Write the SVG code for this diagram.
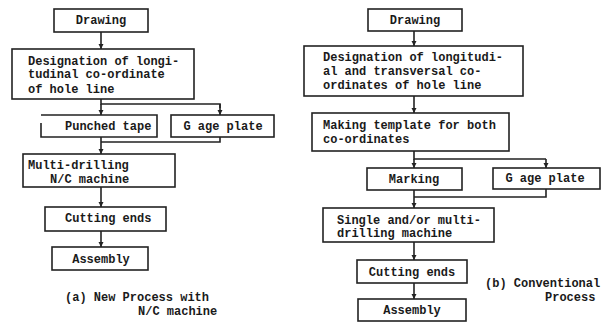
<svg xmlns="http://www.w3.org/2000/svg" width="608" height="322" viewBox="0 0 608 322">
<defs>
<marker id="ah" viewBox="0 0 10 10" refX="10" refY="5" markerWidth="5" markerHeight="7" orient="auto" markerUnits="userSpaceOnUse">
<path d="M0,0 L10,5 L0,10 z" fill="#222"/>
</marker>
</defs>
<style>
rect,.bx{fill:#fff;stroke:#222;stroke-width:1.6}
text{font-family:"Liberation Mono","DejaVu Sans Mono",monospace;font-size:12px;font-weight:bold;fill:#1a1a1a}
.c{text-anchor:middle}
.ln{fill:none;stroke:#222;stroke-width:1.6}
.ar{fill:none;stroke:#222;stroke-width:1.6;marker-end:url(#ah)}
</style>
<rect x="0" y="0" width="608" height="322" style="fill:#fff;stroke:none"/>
<g id="connectors">
<line class="ar" x1="101" y1="32" x2="101" y2="49"/>
<polyline class="ln" points="101,99 101,104 220,104 220,108"/>
<line class="ar" x1="220" y1="104" x2="220" y2="115"/>
<line class="ar" x1="101" y1="104" x2="101" y2="115"/>
<polyline class="ln" points="220,137 220,142 101,142"/>
<line class="ln" x1="101" y1="137" x2="101" y2="142"/>
<line class="ar" x1="101" y1="142" x2="101" y2="154"/>
<line class="ar" x1="101" y1="187" x2="101" y2="207"/>
<line class="ar" x1="101" y1="231" x2="101" y2="247"/>
<line class="ar" x1="414" y1="31" x2="414" y2="46"/>
<line class="ar" x1="414" y1="96" x2="414" y2="113"/>
<polyline class="ln" points="414,151 414,159 546,159"/>
<line class="ar" x1="546" y1="159" x2="546" y2="168"/>
<line class="ar" x1="414" y1="159" x2="414" y2="168"/>
<polyline class="ln" points="546,189 546,197 414,197"/>
<line class="ln" x1="414" y1="190" x2="414" y2="197"/>
<line class="ar" x1="414" y1="197" x2="414" y2="208"/>
<line class="ar" x1="414" y1="242" x2="414" y2="260"/>
<line class="ar" x1="414" y1="283" x2="414" y2="299"/>
</g>
<g id="a-drawing"><rect x="54" y="9" width="94" height="23"/><text class="c" x="101" y="24">Drawing</text></g>
<g id="a-designation"><rect x="12" y="49" width="182" height="50"/>
<text x="28" y="65">Designation of longi-</text>
<text x="28" y="78">tudinal co-ordinate</text>
<text x="28" y="93">of hole line</text></g>
<g id="a-punched"><rect x="41" y="115" width="116" height="22" style="stroke:none"/><path class="bx" style="fill:none" d="M41,123 V137 H157 V115 H41"/><text x="65" y="130">Punched tape</text></g>
<g id="a-gage"><rect x="171" y="115" width="103" height="22"/><text class="c" x="223" y="130">G age plate</text></g>
<g id="a-multi"><rect x="23" y="154" width="152" height="33"/>
<text x="28" y="169">Multi-drilling</text>
<text x="50" y="183">N/C machine</text></g>
<g id="a-cutting"><rect x="45" y="207" width="121" height="24"/><text x="65" y="222">Cutting ends</text></g>
<g id="a-assembly"><rect x="52" y="247" width="96" height="23"/><text class="c" x="101" y="263">Assembly</text></g>
<g id="a-caption"><text x="65" y="301">(a) New Process with</text><text x="138" y="315">N/C machine</text></g>
<g id="b-drawing"><rect x="368" y="9" width="94" height="22"/><text class="c" x="415" y="24">Drawing</text></g>
<g id="b-designation"><rect x="304" y="46" width="219" height="50"/>
<text x="323" y="61">Designation of longitudi-</text>
<text x="323" y="75">al and transversal co-</text>
<text x="323" y="89">ordinates of hole line</text></g>
<g id="b-template"><rect x="312" y="113" width="197" height="38"/>
<text x="323" y="129">Making template for both</text>
<text x="323" y="143">co-ordinates</text></g>
<g id="b-marking"><rect x="367" y="168" width="95" height="22"/><text class="c" x="414" y="183">Marking</text></g>
<g id="b-gage"><rect x="493" y="168" width="107" height="21"/><text class="c" x="545" y="182">G age plate</text></g>
<g id="b-single"><rect x="323" y="208" width="171" height="34"/>
<text x="337" y="224">Single and/or multi-</text>
<text x="337" y="237">drilling machine</text></g>
<g id="b-cutting"><rect x="357" y="260" width="110" height="23"/><text class="c" x="412" y="276">Cutting ends</text></g>
<g id="b-assembly"><rect x="358" y="299" width="108" height="22"/><text class="c" x="412" y="314">Assembly</text></g>
<g id="b-caption"><text x="485" y="287">(b) Conventional</text><text x="545" y="301">Process</text></g>
</svg>
